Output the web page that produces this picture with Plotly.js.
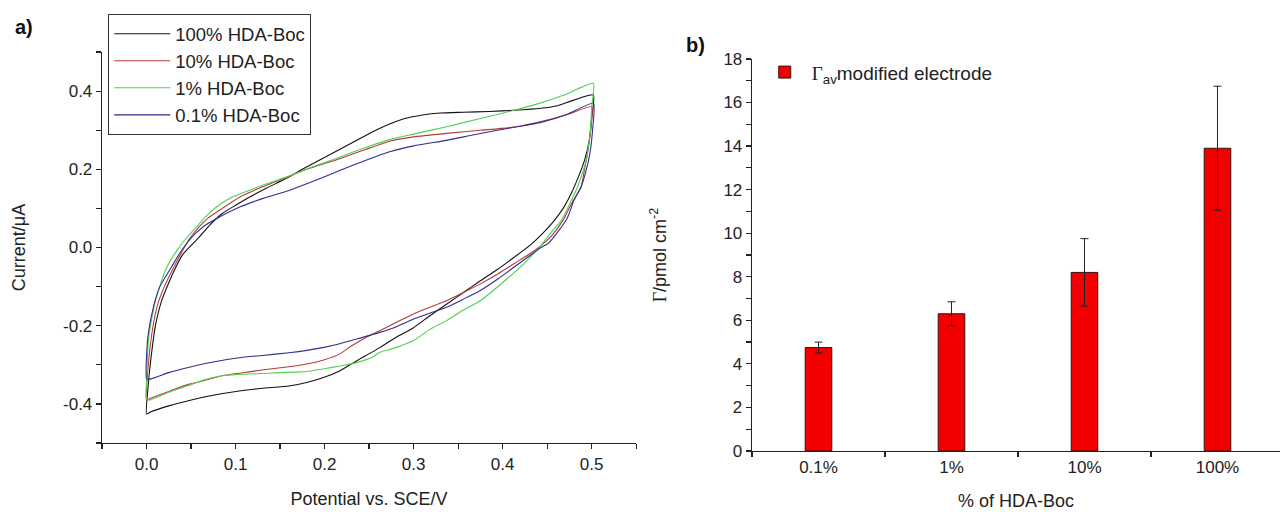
<!DOCTYPE html>
<html>
<head>
<meta charset="utf-8">
<script src="https://cdn.plot.ly/plotly-3.0.1.min.js"></script>
<style>html,body{margin:0;padding:0;background:#fff;}#chart{width:1280px;height:517px;}</style>
</head>
<body>
<div id="chart"></div>
<script>
// ---- Panel a) cyclic voltammograms (potential / V, current / µA) ----
const potential100 = [0.000,0.002,0.006,0.010,0.017,0.025,0.033,0.040,0.050,0.059,0.070,0.085,0.100,0.115,0.135,0.157,0.175,0.194,0.212,0.232,0.253,0.273,0.290,0.310,0.330,0.356,0.385,0.413,0.443,0.460,0.480,0.502,
  0.500,0.497,0.492,0.485,0.477,0.468,0.458,0.445,0.432,0.413,0.395,0.375,0.356,0.337,0.318,0.300,0.280,0.262,0.236,0.215,0.198,0.180,0.160,0.130,0.104,0.075,0.047,0.025,0.005,0.000];
const current100 = [-0.426,-0.350,-0.264,-0.200,-0.136,-0.090,-0.050,-0.020,0.005,0.026,0.055,0.087,0.108,0.128,0.152,0.177,0.200,0.223,0.245,0.269,0.295,0.316,0.330,0.339,0.344,0.346,0.348,0.351,0.356,0.362,0.377,0.390,
  0.330,0.270,0.223,0.180,0.138,0.100,0.069,0.036,0.008,-0.025,-0.055,-0.085,-0.115,-0.145,-0.175,-0.205,-0.230,-0.256,-0.290,-0.318,-0.333,-0.345,-0.354,-0.360,-0.367,-0.378,-0.392,-0.405,-0.420,-0.426];

const potential10 = [0.000,0.002,0.006,0.012,0.020,0.033,0.047,0.058,0.070,0.085,0.104,0.125,0.149,0.180,0.217,0.245,0.273,0.300,0.337,0.375,0.413,0.450,0.475,0.500,
  0.499,0.496,0.492,0.488,0.478,0.468,0.455,0.443,0.428,0.413,0.395,0.375,0.356,0.337,0.318,0.300,0.280,0.262,0.245,0.230,0.217,0.200,0.180,0.160,0.141,0.115,0.085,0.065,0.047,0.025,0.005,0.000];
const current10 = [-0.390,-0.300,-0.220,-0.150,-0.100,-0.040,0.018,0.050,0.077,0.100,0.128,0.150,0.172,0.200,0.227,0.250,0.272,0.283,0.292,0.300,0.308,0.326,0.342,0.360,
  0.300,0.250,0.200,0.154,0.115,0.070,0.030,0.005,-0.020,-0.041,-0.067,-0.093,-0.115,-0.136,-0.153,-0.170,-0.192,-0.213,-0.232,-0.252,-0.272,-0.287,-0.298,-0.305,-0.310,-0.318,-0.328,-0.340,-0.350,-0.368,-0.385,-0.390];

const potential1 = [0.000,0.000,0.001,0.003,0.010,0.021,0.034,0.045,0.055,0.067,0.081,0.097,0.115,0.135,0.157,0.185,0.217,0.245,0.273,0.300,0.337,0.375,0.413,0.440,0.469,0.502,
  0.500,0.499,0.494,0.484,0.475,0.466,0.455,0.443,0.424,0.405,0.375,0.356,0.337,0.318,0.300,0.280,0.262,0.254,0.235,0.217,0.200,0.180,0.150,0.123,0.100,0.085,0.065,0.047,0.025,0.005,0.000];
const current1 = [-0.389,-0.340,-0.280,-0.220,-0.136,-0.059,-0.008,0.025,0.050,0.080,0.108,0.130,0.146,0.163,0.180,0.205,0.231,0.255,0.276,0.290,0.309,0.330,0.351,0.368,0.390,0.420,
  0.360,0.308,0.223,0.154,0.110,0.069,0.040,0.005,-0.041,-0.080,-0.136,-0.160,-0.187,-0.210,-0.238,-0.256,-0.268,-0.280,-0.295,-0.303,-0.310,-0.317,-0.320,-0.323,-0.325,-0.328,-0.338,-0.353,-0.370,-0.389,-0.389];

const potential01 = [0.000,0.000,0.002,0.008,0.015,0.028,0.040,0.055,0.068,0.081,0.104,0.130,0.160,0.190,0.217,0.245,0.273,0.300,0.337,0.365,0.394,0.420,0.443,0.470,0.502,
  0.501,0.498,0.493,0.488,0.480,0.473,0.462,0.451,0.443,0.428,0.413,0.395,0.375,0.356,0.337,0.318,0.300,0.280,0.262,0.236,0.217,0.198,0.180,0.160,0.130,0.104,0.075,0.047,0.025,0.005,0.000];
const current01 = [-0.336,-0.280,-0.220,-0.150,-0.100,-0.050,-0.005,0.036,0.060,0.077,0.103,0.125,0.146,0.172,0.197,0.222,0.245,0.260,0.274,0.287,0.300,0.310,0.320,0.338,0.369,
  0.300,0.240,0.190,0.154,0.120,0.077,0.040,0.010,0.000,-0.025,-0.050,-0.080,-0.110,-0.132,-0.153,-0.168,-0.183,-0.203,-0.217,-0.234,-0.246,-0.256,-0.263,-0.269,-0.276,-0.282,-0.293,-0.307,-0.320,-0.336,-0.336];

const cvNames = ['100% HDA-Boc','10% HDA-Boc','1% HDA-Boc','0.1% HDA-Boc'];
const cvColors = ['#111111','#b83a3a','#4fd04f','#2f2f8f'];
const currentTickVals = [-0.4,-0.2,0,0.2,0.4];
const currentTickText = ['-0.4','-0.2','0.0','0.2','0.4'];
const potentialTickVals = [0,0.1,0.2,0.3,0.4,0.5];
const potentialTickText = ['0.0','0.1','0.2','0.3','0.4','0.5'];

// ---- Panel b) surface coverage ----
const hdaCategories = ['0.1%','1%','10%','100%'];
const gammaAv = [4.75, 6.3, 8.2, 13.9];
const gammaErr = [0.25, 0.55, 1.55, 2.85];

const FONT = 'Arial, "Liberation Sans", sans-serif';
const cvX = [potential100, potential10, potential1, potential01];
const cvY = [current100, current10, current1, current01];

const traces = cvNames.map((n, i) => ({
  type: 'scatter', mode: 'lines', name: n,
  x: cvX[i], y: cvY[i], xaxis: 'x', yaxis: 'y',
  line: {color: cvColors[i], width: 1.1, shape: 'spline', smoothing: 0.5},
  legend: 'legend'
}));

traces.push({
  type: 'bar', name: '<span style="font-family:\'Liberation Serif\',serif">Γ</span><sub>av</sub>modified electrode',
  x: hdaCategories, y: gammaAv, xaxis: 'x2', yaxis: 'y2', width: 0.2,
  marker: {color: '#f20000', line: {color: '#3a1010', width: 1}},
  error_y: {type: 'data', array: gammaErr, visible: true, color: '#222', thickness: 1, width: 4},
  legend: 'legend2'
});

const axisCommon = {
  showline: true, linecolor: '#222', linewidth: 1.3, ticks: 'outside', ticklen: 5, tickwidth: 1.2,
  tickcolor: '#222', showgrid: false, zeroline: false,
  tickfont: {family: FONT, size: 17, color: '#222'}
};

const layout = {
  width: 1280, height: 517,
  margin: {l: 0, r: 0, t: 0, b: 0},
  paper_bgcolor: '#fff', plot_bgcolor: '#fff',
  showlegend: true,
  font: {family: FONT, color: '#222'},
  xaxis: Object.assign({}, axisCommon, {
    domain: [0.0797, 0.497], range: [-0.05, 0.55], anchor: 'y',
    tickvals: potentialTickVals, ticktext: potentialTickText,
    minor: {ticks: 'outside', ticklen: 5, tickwidth: 1.2, tickcolor: '#222', dtick: 0.05, tick0: 0},
    title: {text: 'Potential vs. SCE/V', font: {family: FONT, size: 18, color: '#222'}, standoff: 19}
  }),
  yaxis: Object.assign({}, axisCommon, {
    domain: [0.1431, 0.8994], range: [-0.5, 0.5], anchor: 'x',
    tickvals: currentTickVals, ticktext: currentTickText,
    minor: {ticks: 'outside', ticklen: 5, tickwidth: 1.2, tickcolor: '#222', dtick: 0.1, tick0: 0},
    title: {text: 'Current/μA', font: {family: FONT, size: 18, color: '#222'}, standoff: 32}
  }),
  xaxis2: Object.assign({}, axisCommon, {
    domain: [0.5875, 1.0], range: [-0.5, 3.47], anchor: 'y2', type: 'category',
    tickson: 'boundaries',
    title: {text: '% of HDA-Boc', font: {family: FONT, size: 18, color: '#222'}, standoff: 18}
  }),
  yaxis2: Object.assign({}, axisCommon, {
    domain: [0.1277, 0.8859], range: [0, 18], anchor: 'x2',
    dtick: 2, tick0: 0,
    minor: {ticks: 'outside', ticklen: 5, tickwidth: 1.2, tickcolor: '#222', dtick: 1, tick0: 0},
    title: {text: '<span style="font-family:\'Liberation Serif\',serif">Γ</span>/pmol cm<sup>-2</sup>', font: {family: FONT, size: 18, color: '#222'}, standoff: 52}
  }),
  legend: {
    x: 0.0844, y: 0.973, xanchor: 'left', yanchor: 'top',
    bgcolor: '#fff', bordercolor: '#333', borderwidth: 1.2,
    font: {family: FONT, size: 18.5, color: '#222'},
    tracegroupgap: 0, itemwidth: 56
  },
  legend2: {
    x: 0.592, y: 0.897, xanchor: 'left', yanchor: 'top',
    bgcolor: 'rgba(0,0,0,0)', borderwidth: 0, itemwidth: 44,
    font: {family: FONT, size: 19, color: '#222'}
  },
  annotations: [
    {text: '<b>a)</b>', xref: 'paper', yref: 'paper', x: 0.010, y: 0.947, xanchor: 'left', yanchor: 'middle', showarrow: false, font: {family: FONT, size: 20, color: '#111'}},
    {text: '<b>b)</b>', xref: 'paper', yref: 'paper', x: 0.534, y: 0.913, xanchor: 'left', yanchor: 'middle', showarrow: false, font: {family: FONT, size: 20, color: '#111'}}
  ]
};

Plotly.newPlot('chart', traces, layout, {displayModeBar: false, staticPlot: true});
</script>
</body>
</html>
